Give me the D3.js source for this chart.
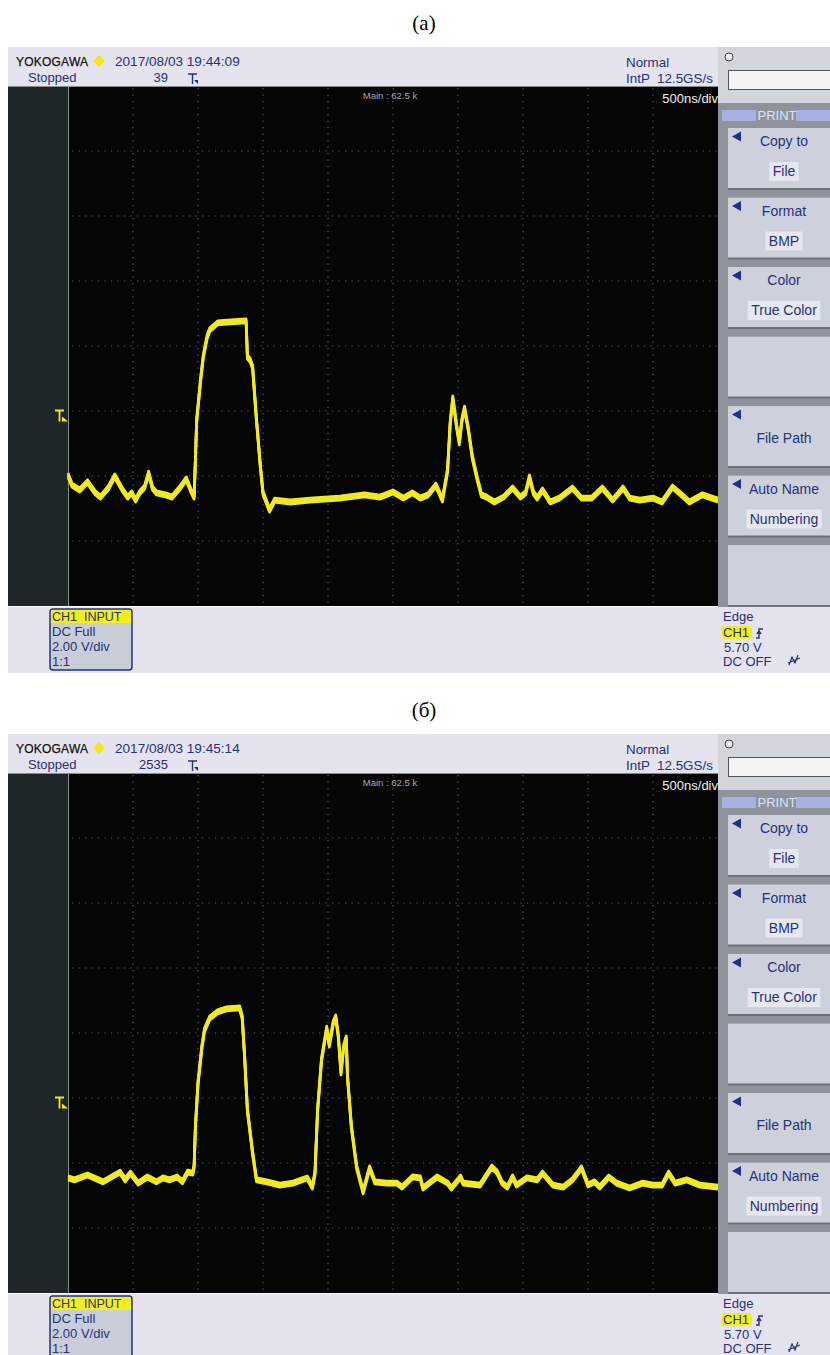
<!DOCTYPE html>
<html>
<head>
<meta charset="utf-8">
<script src="https://cdn.jsdelivr.net/npm/d3@7"></script>
<style>
  body { margin: 0; background: #fff; }
  text { font-family: "Liberation Sans", Arial, sans-serif; }
</style>
</head>
<body>
<svg id="chart"></svg>
<script>
// ---- data (time in us, level in V, 2 V/div, 500 ns/div) ----
var tA = [0.00, 0.03, 0.09, 0.15, 0.21, 0.25, 0.31, 0.36, 0.42, 0.46, 0.49, 0.52, 0.55, 0.59, 0.62, 0.65, 0.68, 0.75, 0.80, 0.86, 0.91, 0.95, 0.97,
          0.98, 0.99, 1.02, 1.04, 1.07, 1.09, 1.15, 1.25, 1.37, 1.38, 1.40, 1.42, 1.45, 1.48, 1.50, 1.55, 1.59, 1.71, 1.86, 2.09, 2.28, 2.40, 2.50,
          2.58, 2.65, 2.71, 2.77, 2.83, 2.88, 2.92, 2.94, 2.96, 2.99, 3.01, 3.03, 3.05, 3.08, 3.11, 3.15, 3.18, 3.22, 3.28, 3.35, 3.42, 3.48,
          3.52, 3.55, 3.58, 3.61, 3.65, 3.71, 3.78, 3.88, 3.95, 4.03, 4.11, 4.19, 4.27, 4.32, 4.40, 4.50, 4.57, 4.65, 4.72, 4.78, 4.88, 5.00];
var vA = [-3.97, -4.28, -4.43, -4.18, -4.52, -4.65, -4.37, -4.00, -4.43, -4.65, -4.52, -4.74, -4.52, -4.34, -3.91, -4.37, -4.52, -4.58, -4.65, -4.37, -4.09, -4.49, -4.65,
          -3.51, -2.28, -1.05, -0.34, 0.28, 0.49, 0.71, 0.74, 0.77, -0.34, -0.43, -0.65, -2.28, -3.72, -4.52, -5.05, -4.74, -4.80, -4.74, -4.68, -4.58, -4.65, -4.49,
          -4.68, -4.52, -4.68, -4.58, -4.28, -4.74, -3.82, -2.37, -1.60, -2.49, -2.98, -2.28, -1.91, -2.58, -3.42, -4.12, -4.58, -4.65, -4.80, -4.65, -4.37, -4.65,
          -4.52, -4.03, -4.52, -4.68, -4.43, -4.80, -4.68, -4.37, -4.68, -4.68, -4.37, -4.74, -4.37, -4.68, -4.74, -4.68, -4.80, -4.34, -4.58, -4.80, -4.58, -4.74];

var tB = [0.00, 0.05, 0.15, 0.27, 0.40, 0.44, 0.48, 0.54, 0.61, 0.68, 0.73, 0.78, 0.84, 0.88, 0.92, 0.96, 0.97, 0.98, 1.00, 1.03, 1.05, 1.09, 1.15, 1.22, 1.32,
          1.34, 1.36, 1.38, 1.42, 1.45, 1.53, 1.63, 1.73, 1.84, 1.88, 1.90, 1.92, 1.95, 1.99, 2.01, 2.04, 2.06, 2.08, 2.10, 2.12, 2.14, 2.15, 2.18, 2.22,
          2.27, 2.32, 2.36, 2.45, 2.53, 2.57, 2.65, 2.71, 2.73, 2.84, 2.92, 2.95, 3.02, 3.04, 3.17, 3.26, 3.30, 3.34, 3.38, 3.42, 3.45, 3.53, 3.61, 3.65,
          3.73, 3.81, 3.88, 3.95, 4.00, 4.05, 4.09, 4.16, 4.22, 4.32, 4.42, 4.50, 4.57, 4.62, 4.67, 4.76, 4.86, 5.00];
var vB = [-4.46, -4.52, -4.37, -4.58, -4.28, -4.52, -4.31, -4.62, -4.43, -4.58, -4.46, -4.52, -4.43, -4.58, -4.28, -4.31, -4.12, -2.89, -1.54, -0.43, 0.09, 0.46, 0.65, 0.74, 0.77,
          0.49, -0.83, -2.37, -3.69, -4.52, -4.58, -4.68, -4.62, -4.46, -4.74, -4.31, -2.37, -0.83, 0.15, -0.37, 0.31, 0.49, -0.12, -1.23, -0.43, -0.15, -1.35, -2.89, -4.12,
          -4.89, -4.15, -4.58, -4.62, -4.62, -4.74, -4.43, -4.46, -4.77, -4.43, -4.62, -4.77, -4.43, -4.62, -4.68, -4.12, -4.28, -4.62, -4.74, -4.43, -4.68, -4.46, -4.52, -4.31,
          -4.68, -4.74, -4.52, -4.15, -4.68, -4.58, -4.74, -4.43, -4.62, -4.77, -4.62, -4.68, -4.68, -4.31, -4.62, -4.52, -4.68, -4.74];

var panelTitles = ["(а)", "(б)"];
var timeStamps = ["2017/08/03 19:44:09", "2017/08/03 19:45:14"];
var acqCounts = ["39", "2535"];
var triggerLevel = -2.2;            // where the yellow T marker sits (V on screen)
var timeTicks = [0.5, 1, 1.5, 2, 2.5, 3, 3.5, 4, 4.5];
var voltTicks = [-6, -4, -2, 0, 2, 4, 6];
var menuItems = [["Copy to", "File"], ["Format", "BMP"], ["Color", "True Color"], null,
                 ["", "File Path"], ["Auto Name", "Numbering"], null];
var chInfo = ["DC Full", "2.00 V/div", "1:1"];

var blue = "#27317a";
var yellow = "#f0ea22";

var svg = d3.select("#chart")
    .attr("width", 830)
    .attr("height", 1355)
    .style("display", "block");
svg.append("rect").attr("width", 830).attr("height", 1355).attr("fill", "#fff");

var x = d3.scaleLinear().domain([0, 5]).range([68, 718]);
var y = d3.scaleLinear().domain([-8, 8]).range([606, 86]);

function drawScope(oy, i, ts, vs) {
    var g = svg.append("g").attr("transform", "translate(0," + oy + ")");

    g.append("text").attr("x", 424).attr("y", 30)
        .attr("text-anchor", "middle")
        .style("font-family", "'Liberation Serif', serif")
        .style("font-size", "21px")
        .text(panelTitles[i]);

    // header strip
    g.append("rect").attr("x", 8).attr("y", 47).attr("width", 710).attr("height", 40).attr("fill", "#e5e3ee");
    g.append("text").attr("x", 16).attr("y", 66).style("font-size", "12px")
        .attr("textLength", 72).attr("fill", "#111").attr("stroke", "#111").attr("stroke-width", 0.25)
        .text("YOKOGAWA");
    g.append("path").attr("d", "M99,55 L105,61 L99,67 L93,61 Z").attr("fill", "#f4e81a");
    g.append("text").attr("x", 115).attr("y", 66).style("font-size", "13.6px").attr("fill", blue).text(timeStamps[i]);
    g.append("text").attr("x", 28).attr("y", 82).style("font-size", "13px").attr("fill", blue).text("Stopped");
    g.append("text").attr("x", 168).attr("y", 82).attr("text-anchor", "end").style("font-size", "13px").attr("fill", blue).text(acqCounts[i]);
    g.append("path").attr("d", "M188,74 h9 M192.5,74 v10").attr("stroke", blue).attr("stroke-width", 1.4).attr("fill", "none");
    g.append("path").attr("d", "M194,80 l4,0 l0,4 z").attr("fill", blue);
    g.append("text").attr("x", 626).attr("y", 67).style("font-size", "13.4px").attr("fill", blue).text("Normal");
    g.append("text").attr("x", 626).attr("y", 83).style("font-size", "13.4px").attr("fill", blue)
        .attr("xml:space", "preserve").text("IntP  12.5GS/s");

    // screen
    g.append("rect").attr("x", 8).attr("y", 86).attr("width", 60).attr("height", 520).attr("fill", "#1f2628");
    g.append("rect").attr("x", 68).attr("y", 86).attr("width", 650).attr("height", 520).attr("fill", "#050505");
    g.append("line").attr("x1", 8).attr("x2", 718).attr("y1", 86.5).attr("y2", 86.5).attr("stroke", "#8a8a8a");
    g.append("line").attr("x1", 68.5).attr("x2", 68.5).attr("y1", 86).attr("y2", 606).attr("stroke", "#8a8a8a");

    g.selectAll(".vg").data(timeTicks).enter().append("line")
        .attr("x1", function(d) { return x(d); }).attr("x2", function(d) { return x(d); })
        .attr("y1", 88).attr("y2", 606)
        .attr("stroke", "#5c5c5c").attr("stroke-width", 1.2).attr("stroke-dasharray", "1.2,5.3");
    g.selectAll(".hg").data(voltTicks).enter().append("line")
        .attr("y1", function(d) { return y(d); }).attr("y2", function(d) { return y(d); })
        .attr("x1", 72).attr("x2", 718)
        .attr("stroke", "#5c5c5c").attr("stroke-width", 1.2).attr("stroke-dasharray", "1.2,5.3");

    g.append("text").attr("x", 390).attr("y", 99).attr("text-anchor", "middle")
        .style("font-size", "9.5px").attr("fill", "#a8a8a8").text("Main : 62.5 k");
    g.append("text").attr("x", 718).attr("y", 103).attr("text-anchor", "end")
        .style("font-size", "13px").attr("fill", "#f2f2f2").text("500ns/div");

    // trigger level marker
    var ty = y(triggerLevel);
    g.append("path").attr("d", "M55," + (ty - 7) + " h9 M59.5," + (ty - 7) + " v11")
        .attr("stroke", yellow).attr("stroke-width", 1.8).attr("fill", "none");
    g.append("path").attr("d", "M62," + (ty - 1) + " l6,5 l-6,0 z").attr("fill", yellow);

    // trace: thin copies stacked vertically mimic the noise band
    var pts = ts.map(function(t, k) { return [t, vs[k]]; });
    var line = d3.line().x(function(d) { return x(d[0]); }).y(function(d) { return y(d[1]); });
    [-2, 0, 2].forEach(function(dy) {
        g.append("path").attr("d", line(pts))
            .attr("transform", "translate(0," + dy + ")")
            .attr("fill", "none").attr("stroke", yellow)
            .attr("stroke-width", 2.8).attr("stroke-linejoin", "round");
    });

    // right menu
    g.append("rect").attr("x", 718).attr("y", 47).attr("width", 112).attr("height", 56).attr("fill", "#d3d5dd");
    g.append("rect").attr("x", 718).attr("y", 103).attr("width", 112).attr("height", 504).attr("fill", "#8f939c");
    g.append("circle").attr("cx", 729).attr("cy", 57).attr("r", 4).attr("fill", "#eee").attr("stroke", "#444");
    g.append("rect").attr("x", 728.5).attr("y", 70.5).attr("width", 104).attr("height", 19)
        .attr("fill", "#f4f4f8").attr("stroke", "#555").attr("stroke-width", 1);
    g.append("rect").attr("x", 722).attr("y", 110).attr("width", 34).attr("height", 11).attr("fill", "#a7b2e0");
    g.append("rect").attr("x", 796).attr("y", 110).attr("width", 34).attr("height", 11).attr("fill", "#a7b2e0");
    g.append("text").attr("x", 777).attr("y", 120).attr("text-anchor", "middle")
        .style("font-size", "13px").attr("fill", "#dbe4ff").text("PRINT");

    menuItems.forEach(function(m, k) {
        var top = 128 + k * 69.5;
        g.append("rect").attr("x", 728).attr("y", top).attr("width", 104).attr("height", 62).attr("fill", "#6c7079");
        g.append("rect").attr("x", 728).attr("y", top).attr("width", 102).attr("height", 60).attr("fill", "#cdd1db");
        if (!m) return;
        g.append("path").attr("d", "M732," + (top + 8.5) + " l9,-5 l0,10 z").attr("fill", "#1f2f8a");
        if (m[0]) {
            g.append("text").attr("x", 784).attr("y", top + 18).attr("text-anchor", "middle")
                .style("font-size", "14px").attr("fill", blue).text(m[0]);
            var t2 = g.append("text").attr("x", 784).attr("y", top + 48).attr("text-anchor", "middle")
                .style("font-size", "14px").attr("fill", blue).text(m[1]);
            var w = t2.node().getComputedTextLength() + 7;
            g.insert("rect", function() { return t2.node(); })
                .attr("x", 784 - w / 2).attr("y", top + 34).attr("width", w).attr("height", 19).attr("fill", "#e6e7ef");
        } else {
            g.append("text").attr("x", 784).attr("y", top + 37).attr("text-anchor", "middle")
                .style("font-size", "14px").attr("fill", blue).text(m[1]);
        }
    });

    // footer
    g.append("rect").attr("x", 8).attr("y", 607).attr("width", 822).attr("height", 66).attr("fill", "#e5e3ee");
    g.append("rect").attr("x", 50).attr("y", 609).attr("width", 82).attr("height", 61).attr("rx", 3)
        .attr("fill", "#c9cdd8").attr("stroke", "#24307e").attr("stroke-width", 1.5);
    g.append("rect").attr("x", 51).attr("y", 610).attr("width", 80).attr("height", 13).attr("fill", "#f4ee1e");
    g.append("text").attr("x", 52).attr("y", 621).style("font-size", "12.5px").attr("fill", blue)
        .attr("xml:space", "preserve").text("CH1  INPUT");
    chInfo.forEach(function(s, k) {
        g.append("text").attr("x", 52).attr("y", 636 + k * 15).style("font-size", "13px").attr("fill", blue).text(s);
    });

    g.append("text").attr("x", 723).attr("y", 621).style("font-size", "13px").attr("fill", blue).text("Edge");
    g.append("rect").attr("x", 721).attr("y", 626).attr("width", 31).attr("height", 13).attr("rx", 4).attr("fill", "#f4ee1e");
    g.append("text").attr("x", 723).attr("y", 637).style("font-size", "13px").attr("fill", blue).text("CH1");
    g.append("path").attr("d", "M756,638 h3 v-9 h4 M757,634 l2,-3 l2,3").attr("stroke", blue).attr("stroke-width", 1.4).attr("fill", "none");
    g.append("text").attr("x", 724).attr("y", 652).style("font-size", "13px").attr("fill", blue).text("5.70 V");
    g.append("text").attr("x", 723).attr("y", 666).style("font-size", "13px").attr("fill", blue).text("DC OFF");
    g.append("path").attr("d", "M789,665 l3,-8 l3,6 l3,-8 M788,663 l12,-5").attr("stroke", blue).attr("stroke-width", 1.2).attr("fill", "none");
}

drawScope(0, 0, tA, vA);
drawScope(687, 1, tB, vB);
</script>
</body>
</html>
